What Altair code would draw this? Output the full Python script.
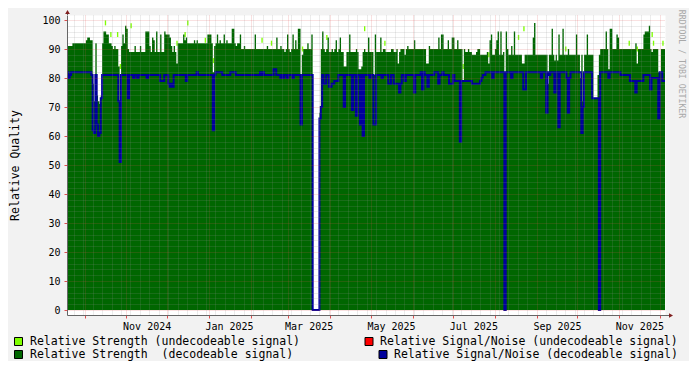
import pandas as pd
import altair as alt

FONT = "DejaVu Sans Mono"
START = "2024-09-18"
END = "2025-12-05"

# Relative strength (decodeable signal), one value per day from START
strength = [
    91, 91, 91, 91, 92, 92, 92, 92, 92, 92,
    92, 92, 92, 92, 93, 94, 94, 93, 93, 78,
    72, 92, 74, 72, 71, 74, 92, 96, 96, 95,
    95, 92, 92, 91, 90, 91, 90, 90, 84, 69,
    91, 95, 92, 98, 97, 90, 89, 89, 89, 89,
    91, 89, 89, 89, 91, 89, 89, 89, 96, 96,
    96, 91, 89, 94, 93, 89, 96, 89, 89, 95,
    89, 89, 96, 95, 95, 95, 94, 91, 89, 91,
    89, 85, 92, 92, 92, 92, 95, 93, 94, 92,
    92, 92, 92, 92, 93, 92, 93, 92, 92, 92,
    92, 92, 92, 92, 95, 95, 95, 92, 82, 91,
    92, 95, 92, 93, 92, 92, 95, 92, 93, 92,
    92, 92, 97, 97, 92, 91, 92, 92, 95, 90,
    90, 91, 90, 90, 90, 90, 90, 90, 90, 95,
    90, 90, 90, 90, 90, 90, 90, 90, 91, 90,
    90, 90, 90, 90, 90, 94, 90, 90, 91, 90,
    90, 89, 90, 95, 90, 89, 90, 95, 90, 93,
    90, 97, 97, 81, 88, 90, 90, 90, 92, 90,
    90, 95, 0, 0, 0, 0, 0, 68, 90, 96,
    90, 89, 90, 94, 89, 89, 90, 89, 90, 93,
    89, 90, 94, 89, 89, 84, 84, 89, 89, 95,
    89, 89, 89, 89, 90, 89, 83, 83, 84, 89,
    90, 89, 89, 94, 89, 89, 89, 81, 95, 89,
    89, 89, 94, 89, 90, 90, 89, 89, 89, 89,
    90, 90, 89, 89, 90, 85, 89, 90, 90, 90,
    88, 90, 91, 90, 90, 90, 90, 93, 90, 90,
    90, 90, 90, 90, 90, 90, 85, 85, 91, 90,
    90, 90, 90, 90, 90, 94, 90, 95, 95, 90,
    90, 90, 93, 90, 90, 94, 94, 90, 90, 93,
    90, 90, 90, 79, 90, 89, 89, 90, 89, 89,
    88, 88, 88, 89, 90, 90, 88, 88, 88, 88,
    88, 89, 85, 93, 95, 88, 88, 90, 93, 96,
    88, 96, 88, 89, 82, 96, 90, 88, 88, 91,
    88, 96, 88, 88, 88, 88, 88, 85, 85, 88,
    88, 88, 88, 88, 88, 94, 99, 88, 88, 88,
    88, 88, 88, 88, 88, 88, 78, 88, 88, 97,
    88, 86, 88, 86, 95, 88, 88, 97, 88, 88,
    88, 90, 88, 88, 88, 88, 88, 95, 88, 88,
    80, 88, 72, 88, 88, 95, 88, 88, 88, 88,
    73, 73, 73, 81, 88, 90, 90, 90, 90, 96,
    90, 83, 97, 97, 90, 90, 90, 95, 94, 90,
    90, 90, 90, 90, 90, 90, 90, 90, 90, 90,
    90, 92, 85, 90, 90, 90, 90, 95, 96, 96,
    96, 98, 90, 89, 90, 90, 90, 90, 82, 82,
    90, 90, 90, 90,
]

# Relative signal/noise (decodeable signal), one value per day from START
snr = [
    82, 80, 81, 82, 82, 82, 82, 82, 82, 82,
    82, 82, 82, 82, 82, 82, 82, 82, 81, 62,
    61, 81, 64, 60, 61, 73, 81, 81, 81, 81,
    81, 81, 81, 81, 81, 81, 81, 81, 72, 51,
    81, 81, 81, 81, 81, 73, 81, 81, 81, 80,
    81, 81, 80, 81, 81, 81, 81, 81, 81, 80,
    81, 81, 81, 81, 81, 81, 81, 81, 81, 79,
    79, 79, 81, 81, 81, 78, 77, 78, 77, 81,
    81, 81, 81, 81, 81, 81, 81, 81, 79, 81,
    81, 81, 81, 81, 81, 81, 82, 81, 81, 81,
    81, 81, 81, 81, 81, 81, 81, 81, 62, 81,
    82, 82, 82, 82, 82, 81, 81, 81, 81, 81,
    81, 82, 82, 82, 82, 81, 81, 81, 81, 81,
    81, 81, 81, 81, 81, 81, 81, 81, 81, 81,
    81, 81, 81, 82, 81, 82, 81, 81, 81, 81,
    81, 81, 81, 83, 83, 81, 81, 81, 80, 81,
    80, 81, 81, 80, 81, 81, 81, 80, 81, 81,
    81, 81, 81, 64, 81, 81, 81, 81, 81, 81,
    81, 81, 0, 0, 0, 0, 0, 66, 70, 81,
    78, 78, 81, 81, 77, 77, 78, 78, 79, 79,
    79, 81, 81, 81, 81, 70, 81, 81, 81, 81,
    81, 69, 81, 81, 67, 81, 81, 64, 81, 60,
    81, 81, 81, 81, 80, 81, 81, 64, 64, 81,
    81, 81, 81, 80, 81, 81, 81, 81, 78, 78,
    81, 81, 78, 78, 78, 78, 75, 78, 81, 81,
    79, 81, 81, 81, 81, 81, 81, 75, 81, 81,
    81, 81, 82, 76, 82, 81, 81, 77, 81, 81,
    81, 81, 82, 82, 82, 78, 81, 81, 82, 81,
    81, 81, 81, 78, 78, 78, 81, 79, 79, 79,
    79, 58, 79, 79, 79, 79, 79, 79, 79, 79,
    78, 78, 78, 78, 78, 78, 79, 80, 81, 81,
    82, 82, 82, 82, 82, 80, 82, 82, 82, 82,
    82, 82, 82, 82, 0, 82, 82, 82, 82, 80,
    82, 82, 82, 82, 82, 82, 82, 82, 76, 76,
    82, 82, 82, 82, 82, 82, 82, 82, 82, 82,
    82, 80, 82, 82, 82, 68, 82, 81, 82, 82,
    82, 75, 82, 82, 63, 82, 82, 82, 82, 82,
    80, 68, 80, 82, 82, 82, 82, 82, 82, 82,
    82, 61, 70, 82, 82, 82, 82, 82, 82, 73,
    73, 73, 73, 73, 0, 82, 82, 82, 82, 82,
    82, 80, 82, 82, 82, 82, 82, 82, 82, 82,
    81, 81, 81, 81, 81, 81, 81, 79, 79, 79,
    79, 75, 79, 79, 79, 79, 79, 81, 81, 81,
    81, 81, 76, 80, 80, 80, 80, 80, 66, 82,
    82, 79, 79, 79,
]

# Relative strength (undecodeable signal): days where it rises above the decodeable one
undec_dates = [
    "2024-10-16", "2024-10-20", "2024-10-25", "2024-10-27", "2024-11-04",
    "2024-12-08", "2024-12-14", "2024-12-16", "2024-12-29", "2025-01-04",
    "2025-02-09", "2025-02-16", "2025-03-11", "2025-03-29", "2025-04-26",
    "2025-05-11", "2025-07-08", "2025-07-27", "2025-08-18", "2025-08-22",
    "2025-09-22", "2025-11-08", "2025-11-14", "2025-11-25", "2025-11-26",
    "2025-12-03",
]
undec_values = [
    99, 95, 95, 84, 98,
    92, 95, 99, 93, 86,
    93, 92, 90, 94, 97,
    92, 84, 88, 94, 97,
    90, 92, 90, 95, 92,
    92,
]

label_dates = ["2024-11-16", "2025-01-16", "2025-03-16", "2025-05-16",
               "2025-07-16", "2025-09-16", "2025-11-16"]

legend_labels = [
    "Relative Strength (undecodeable signal)",
    "Relative Strength\u00a0 (decodeable signal)",
    "Relative Signal/Noise (undecodeable signal)",
    "Relative Signal/Noise (decodeable signal)",
]

LIGHT = "#7FFF00"
DARK = "#006600"
RED = "#FF0000"
BLUE = "#00009C"
legend_colors = [LIGHT, DARK, RED, BLUE]

assert len(strength) == len(snr)

dates = pd.date_range(START, periods=len(strength), freq="D")
df = pd.DataFrame({"date": dates.strftime("%Y-%m-%d"), "strength": strength, "snr": snr})
und = pd.DataFrame({"date": undec_dates, "value": undec_values})
und["end"] = (pd.to_datetime(und["date"]) + pd.Timedelta(days=1)).dt.strftime("%Y-%m-%d")


def ms(s):
    return int(pd.Timestamp(s, tz="UTC").timestamp() * 1000)


W, H = 598, 300
x_domain = [ms(START), ms(END)]
weeks = [d.strftime("%Y-%m-%d") for d in pd.date_range("2024-09-23", END, freq="7D")]
months = [d.strftime("%Y-%m-%d") for d in pd.date_range("2024-10-01", END, freq="MS")]
x_values = sorted(set(ms(d) for d in weeks + months + label_dates))

MONTH = "utcdate(datum.value) == 1"
LABEL = "utcdate(datum.value) == 16 && utcmonth(datum.value) % 2 == 0"
MGRID = "#DE4F4F"
GRID = "#8F8F8F"

x_axis = alt.Axis(
    values=x_values, title="", zindex=1,
    grid=True,
    gridColor={"condition": {"test": MONTH, "value": MGRID}, "value": GRID},
    gridOpacity={"condition": {"test": LABEL, "value": 0}, "value": 0.35},
    gridDash=[1, 1], gridWidth=1,
    ticks=True, tickSize=3,
    tickColor={"condition": {"test": MONTH, "value": MGRID}, "value": GRID},
    tickOpacity={"condition": {"test": MONTH, "value": 1}, "value": 0},
    labelExpr=f"({LABEL}) ? utcFormat(datum.value, '%b %Y') : ''",
    labelOverlap=False, labelFlush=False,
    labelFont=FONT, labelFontSize=10, labelColor="black", labelPadding=3,
    domainColor="#666666", domainWidth=1,
)

MAJOR = "datum.value % 10 == 0"
y_axis = alt.Axis(
    values=list(range(0, 101, 2)), title="Relative Quality", zindex=1,
    grid=True,
    gridColor={"condition": {"test": MAJOR, "value": MGRID}, "value": GRID},
    gridOpacity=0.35, gridDash=[1, 1], gridWidth=1,
    ticks=True, tickSize=3, tickColor=MGRID,
    tickOpacity={"condition": {"test": MAJOR, "value": 1}, "value": 0},
    labelExpr=f"({MAJOR}) ? datum.label : ''",
    labelFont=FONT, labelFontSize=10, labelColor="black", labelPadding=4,
    labelOverlap=False,
    domainColor="#666666", domainWidth=1,
    titleFont=FONT, titleFontSize=11.5, titleFontWeight="normal", titleColor="black",
    titleX=-52, titleY=150, titleAngle=270, titleAlign="center", titleBaseline="middle",
)

x_scale = alt.Scale(type="utc", domain=x_domain)
y_scale = alt.Scale(domain=[0, 100], nice=False)

light = alt.Chart(und).mark_bar(color=LIGHT).encode(
    x=alt.X("date:T", scale=x_scale, axis=x_axis),
    x2="end:T",
    y=alt.Y("value:Q", scale=y_scale, axis=y_axis),
)

dark = alt.Chart(df).mark_area(color=DARK, interpolate="step-after").encode(
    x=alt.X("date:T", scale=x_scale, axis=x_axis),
    y=alt.Y("strength:Q", scale=y_scale, axis=y_axis),
)

line = alt.Chart(df).mark_line(color=BLUE, strokeWidth=2, interpolate="step-after").encode(
    x=alt.X("date:T", scale=x_scale, axis=x_axis),
    y=alt.Y("snr:Q", scale=y_scale, axis=y_axis),
)

one = pd.DataFrame({"k": [0]})
ARROW = "#801F1F"
decor = [
    alt.Chart(one).mark_rule(color="#666666").encode(
        x=alt.value(0.5), y=alt.value(-4), y2=alt.value(0)),
    alt.Chart(one).mark_rule(color="#666666").encode(
        x=alt.value(W), x2=alt.value(W + 5), y=alt.value(H + 0.5)),
    alt.Chart(one).mark_point(shape="triangle-up", filled=True, size=22, color=ARROW, opacity=1).encode(
        x=alt.value(0.5), y=alt.value(-3)),
    alt.Chart(one).mark_point(shape="triangle-right", filled=True, size=22, color=ARROW, opacity=1).encode(
        x=alt.value(W + 6), y=alt.value(H + 0.5)),
    alt.Chart(one).mark_text(text="RRDTOOL / TOBI OETIKER", angle=90, font=FONT, fontSize=8.2,
                             color="#A8A8A8", align="center", baseline="middle").encode(
        x=alt.value(614), y=alt.value(49)),
]

box_pos = [(-48.5, 326.5), (-48.5, 339.5), (302, 326.5), (316, 339.5)]
text_pos = [(-37, 327), (-37, 340), (313, 327), (327, 340)]
legend = []
for lab, col, (bx, by), (tx, ty) in zip(legend_labels, legend_colors, box_pos, text_pos):
    legend.append(
        alt.Chart(one).mark_square(size=64, filled=True, fill=col, stroke="black",
                                   strokeWidth=1, opacity=1).encode(
            x=alt.value(bx), y=alt.value(by)))
    legend.append(
        alt.Chart(one).mark_text(text=lab, font=FONT, fontSize=11.5, color="black",
                                 align="left", baseline="middle").encode(
            x=alt.value(tx), y=alt.value(ty)))

chart = alt.layer(light, dark, line, *decor, *legend).properties(
    width=W, height=H,
    autosize=alt.AutoSizeParams(type="none"),
    padding={"left": 59, "top": 7, "right": 24, "bottom": 46},
    background="#F2F2F2",
).configure_view(fill="white", stroke="transparent")

chart.save("out.html", embed_options={"renderer": "svg", "actions": False})
